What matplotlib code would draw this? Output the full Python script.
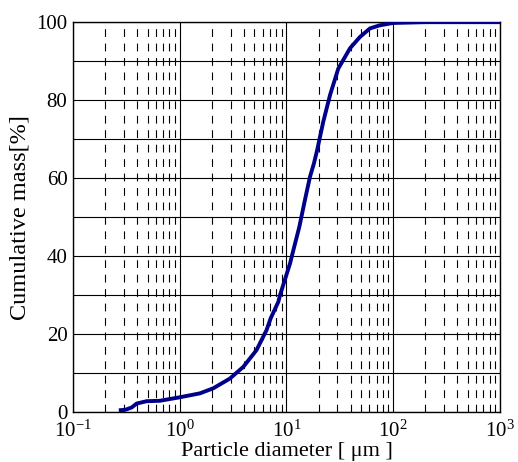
import numpy as np
import matplotlib
matplotlib.use('Agg')
import matplotlib.pyplot as plt
from matplotlib.ticker import LogLocator, MultipleLocator, NullFormatter

plt.rcParams['font.family'] = ['Liberation Serif', 'DejaVu Serif']
plt.rcParams['mathtext.fontset'] = 'custom'
plt.rcParams['mathtext.rm'] = 'Liberation Serif'
plt.rcParams['mathtext.it'] = 'Liberation Serif:italic'

# particle size distribution
diameter = [0.28, 0.31, 0.355, 0.395, 0.49, 0.65, 1.0, 1.54, 2.06, 2.95, 3.94, 5.24,
            6.5, 7.1, 8.4, 8.7, 10.8, 11.6, 13.2, 14.9, 16.6, 18.1, 19.4, 22.1,
            25.6, 30.6, 39.4, 48.8, 60.6, 75, 100, 200, 500, 1000]
cum_mass = [0.5, 0.6, 1.2, 2.2, 2.8, 2.9, 3.8, 4.8, 6.1, 8.6, 11.6, 15.9,
            21, 24, 28.3, 30, 38.1, 41.5, 47.5, 54.4, 60.3, 63.8, 67.2, 74.4,
            81.3, 88.1, 93.3, 96.2, 98.4, 99.2, 99.8, 100, 100, 100]

fig = plt.figure(figsize=(5.18, 4.62), dpi=100)
ax = fig.add_axes([0.141, 0.108, 0.824, 0.844])

ax.plot(diameter, cum_mass, color='#00008b', lw=2.8, zorder=3)

ax.set_xscale('log')
ax.set_xlim(0.1, 1000)
ax.set_ylim(0, 100)
ax.xaxis.set_major_locator(LogLocator(base=10, numticks=10))
ax.xaxis.set_minor_locator(LogLocator(base=10, subs=np.arange(2, 10), numticks=20))
ax.xaxis.set_minor_formatter(NullFormatter())
ax.yaxis.set_major_locator(MultipleLocator(20))
ax.yaxis.set_minor_locator(MultipleLocator(10))

ax.grid(which='major', color='black', lw=0.8)
ax.grid(which='minor', axis='y', color='black', lw=0.8)
ax.grid(which='minor', axis='x', color='black', lw=0.8, linestyle=(0, (7, 6)))

ax.tick_params(which='both', direction='in', length=0, labelsize=15)
ax.tick_params(axis='x', pad=6)
ax.tick_params(axis='y', pad=4)
for s in ax.spines.values():
    s.set_linewidth(1.0)

ax.set_xlabel('Particle diameter [ μm ]', fontsize=16, labelpad=0)
ax.set_ylabel('Cumulative mass[%]', fontsize=17.5, labelpad=4)

fig.savefig('out.png', dpi=100)
